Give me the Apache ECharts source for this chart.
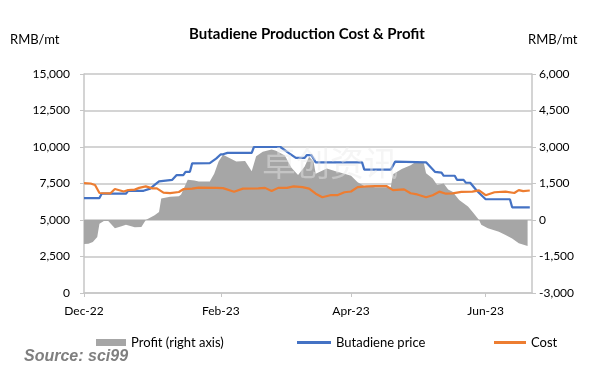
<!DOCTYPE html>
<html>
<head>
<meta charset="utf-8">
<script src="https://cdn.jsdelivr.net/npm/echarts@6/dist/echarts.min.js"></script>
<style>
  html, body { margin: 0; padding: 0; background: #fff; }
  #main { width: 614px; height: 378px; }
</style>
</head>
<body>
<div id="main"></div>
<script>
// tick labels
var leftTicks = [0, 2500, 5000, 7500, 10000, 12500, 15000];
var rightTicks = [-3000, -1500, 0, 1500, 3000, 4500, 6000];
var monthTicks = ['2022-12-01', '2023-02-01', '2023-04-01', '2023-06-01'];
var monthNames = ['Jan','Feb','Mar','Apr','May','Jun','Jul','Aug','Sep','Oct','Nov','Dec'];

// Butadiene price, RMB/mt (left axis)
var priceData = [
  ['2022-12-01',6500],['2022-12-08',6500],['2022-12-09',6800],['2022-12-20',6800],
  ['2022-12-21',7000],['2022-12-28',7000],['2022-12-31',7150],['2023-01-02',7400],
  ['2023-01-04',7650],['2023-01-10',7750],['2023-01-12',8080],['2023-01-15',8080],
  ['2023-01-16',8300],['2023-01-18',8300],['2023-01-19',8880],['2023-01-27',8900],
  ['2023-01-30',9220],['2023-02-01',9500],['2023-02-02',9500],['2023-02-04',9600],
  ['2023-02-15',9600],['2023-02-16',10000],['2023-02-28',10000],['2023-03-04',9570],
  ['2023-03-07',9250],['2023-03-11',9250],['2023-03-12',9450],['2023-03-14',9450],
  ['2023-03-16',8950],['2023-04-06',8950],['2023-04-07',8450],['2023-04-19',8450],
  ['2023-04-21',9000],['2023-05-05',8950],['2023-05-09',8300],['2023-05-12',8250],
  ['2023-05-13',8030],['2023-05-18',8030],['2023-05-19',7750],['2023-05-22',7750],
  ['2023-05-23',7560],['2023-05-25',7550],['2023-05-28',7000],['2023-06-01',6420],
  ['2023-06-12',6420],['2023-06-13',5870],['2023-06-21',5870]
];

// Cost, RMB/mt (left axis)
var costData = [
  ['2022-12-01',7530],['2022-12-04',7500],['2022-12-06',7400],['2022-12-08',6850],
  ['2022-12-13',6830],['2022-12-15',7120],['2022-12-19',6950],['2022-12-21',7050],
  ['2022-12-24',7080],['2022-12-26',7200],['2022-12-29',7300],['2023-01-01',7170],
  ['2023-01-03',7170],['2023-01-06',6880],['2023-01-09',6840],['2023-01-13',6920],
  ['2023-01-15',7110],['2023-01-19',7150],['2023-01-22',7220],['2023-01-30',7200],
  ['2023-02-02',7180],['2023-02-07',6940],['2023-02-11',7150],['2023-02-18',7170],
  ['2023-02-21',7200],['2023-02-24',6980],['2023-02-27',7200],['2023-03-03',7200],
  ['2023-03-06',7300],['2023-03-10',7250],['2023-03-13',7150],['2023-03-16',6800],
  ['2023-03-19',6560],['2023-03-23',6710],['2023-03-26',6710],['2023-03-29',6900],
  ['2023-04-01',6950],['2023-04-04',7250],['2023-04-08',7300],['2023-04-12',7320],
  ['2023-04-17',7330],['2023-04-20',7050],['2023-04-25',7100],['2023-04-28',6830],
  ['2023-05-01',6750],['2023-05-05',6560],['2023-05-08',6700],['2023-05-11',6940],
  ['2023-05-14',6800],['2023-05-17',6820],['2023-05-21',6930],['2023-05-26',6940],
  ['2023-05-29',7030],['2023-06-01',6700],['2023-06-05',6900],['2023-06-10',6940],
  ['2023-06-14',6850],['2023-06-16',7050],['2023-06-18',6980],['2023-06-21',7020]
];

// Profit, RMB/mt (right axis)
var profitData = [
  ['2022-12-01',-990],['2022-12-03',-980],['2022-12-05',-900],['2022-12-07',-700],
  ['2022-12-08',-150],['2022-12-10',-40],['2022-12-12',-40],['2022-12-15',-340],
  ['2022-12-18',-260],['2022-12-20',-200],['2022-12-22',-250],['2022-12-24',-300],
  ['2022-12-27',-290],['2022-12-29',0],['2023-01-02',200],['2023-01-04',330],
  ['2023-01-05',880],['2023-01-09',960],['2023-01-13',980],['2023-01-14',1050],
  ['2023-01-17',1650],['2023-01-20',1620],['2023-01-22',1580],['2023-01-27',1580],
  ['2023-01-29',1900],['2023-01-31',2400],['2023-02-02',2680],['2023-02-06',2500],
  ['2023-02-08',2400],['2023-02-12',2420],['2023-02-15',2000],['2023-02-17',2620],
  ['2023-02-20',2800],['2023-02-24',2900],['2023-02-26',2850],['2023-03-02',2650],
  ['2023-03-05',2150],['2023-03-08',1850],['2023-03-11',2200],['2023-03-13',2600],
  ['2023-03-15',2400],['2023-03-16',1900],['2023-03-21',2120],['2023-03-25',2000],
  ['2023-03-27',1950],['2023-03-29',1900],['2023-04-01',1820],['2023-04-04',1550],
  ['2023-04-07',1400],['2023-04-12',1350],['2023-04-19',1350],['2023-04-20',1880],
  ['2023-04-24',2100],['2023-04-28',2250],['2023-05-01',2420],['2023-05-04',2330],
  ['2023-05-05',1920],['2023-05-08',1710],['2023-05-10',1440],['2023-05-13',1500],
  ['2023-05-15',1250],['2023-05-17',1160],['2023-05-20',820],['2023-05-24',550],
  ['2023-05-26',340],['2023-05-29',0],['2023-05-30',-200],['2023-06-02',-340],
  ['2023-06-07',-480],['2023-06-10',-620],['2023-06-13',-760],['2023-06-16',-960],
  ['2023-06-20',-1070]
];

var chart = echarts.init(document.getElementById('main'), null, {renderer: 'canvas'});

var font = 'Lato';
var gridGrey = '#c6c6c6';

function toTime(s) {
  var p = s.split('-');
  return new Date(+p[0], +p[1] - 1, +p[2]).getTime();
}
function withTime(rows) {
  return rows.map(function (r) { return [toTime(r[0]), r[1]]; });
}
var monthTickTimes = monthTicks.map(toTime);

function thousands(v) {
  return echarts.format.addCommas(v);
}

chart.setOption({
  animation: false,
  backgroundColor: '#fff',
  textStyle: {fontFamily: font},
  grid: {left: 84, right: 82, top: 74, bottom: 85},
  title: {
    text: 'Butadiene Production Cost & Profit',
    left: 'center', top: 22,
    textStyle: {fontFamily: font, fontSize: 15, fontWeight: 'bold', color: '#000'}
  },
  legend: [
    {
      left: 91, top: 331, icon: 'rect', itemWidth: 30, itemHeight: 7, itemGap: 0,
      data: ['Profit (right axis)'],
      textStyle: {fontFamily: font, fontSize: 13, color: '#000'}
    },
    {
      left: 292, top: 331, icon: 'rect', itemWidth: 34, itemHeight: 3, itemGap: 0,
      data: ['Butadiene price'],
      textStyle: {fontFamily: font, fontSize: 13, color: '#000'}
    },
    {
      left: 489, top: 331, icon: 'rect', itemWidth: 32, itemHeight: 3, itemGap: 0,
      data: ['Cost'],
      textStyle: {fontFamily: font, fontSize: 13, color: '#000'}
    }
  ],
  xAxis: {
    type: 'value',
    min: toTime('2022-12-01'),
    max: toTime('2023-06-22'),
    axisLine: {lineStyle: {color: gridGrey, width: 1.5}},
    axisTick: {show: true, customValues: monthTickTimes, length: 4, lineStyle: {color: gridGrey}},
    splitLine: {show: false},
    axisLabel: {
      customValues: monthTickTimes,
      margin: 12,
      fontFamily: font, fontSize: 12, color: '#000',
      formatter: function (v) {
        var d = new Date(v);
        return monthNames[d.getMonth()] + '-' + String(d.getFullYear()).slice(2);
      }
    }
  },
  yAxis: [
    {
      type: 'value', min: 0, max: 15000, interval: 2500,
      axisLine: {show: true, lineStyle: {color: gridGrey, width: 1.5}},
      axisTick: {show: true, length: 4, lineStyle: {color: gridGrey}},
      splitLine: {show: true, lineStyle: {color: gridGrey, width: 1.5}},
      axisLabel: {margin: 14, fontFamily: font, fontSize: 12, color: '#000', formatter: thousands}
    },
    {
      type: 'value', min: -3000, max: 6000, interval: 1500,
      axisLine: {show: true, lineStyle: {color: gridGrey, width: 1.5}},
      axisTick: {show: true, length: 4, lineStyle: {color: gridGrey}},
      splitLine: {show: false},
      axisLabel: {margin: 7, fontFamily: font, fontSize: 12, color: '#000', formatter: thousands}
    }
  ],
  graphic: [
    {type: 'text', left: 10, top: 33, style: {text: 'RMB/mt', font: '13px Lato', fill: '#000'}},
    {type: 'text', left: 528, top: 33, style: {text: 'RMB/mt', font: '13px Lato', fill: '#000'}},
    {
      type: 'text', left: 24, top: 349,
      style: {text: 'Source: sci99', font: 'italic bold 16px "Liberation Sans"', fill: '#7f7f7f'}
    },
    {
      type: 'text', left: 262, top: 146, z: 100, silent: true,
      style: {text: '卓创资讯', font: '34px "Noto Sans CJK SC"', fill: 'rgba(232,232,232,0.45)'}
    }
  ],
  series: [
    {
      name: 'Profit (right axis)',
      type: 'line', yAxisIndex: 1,
      showSymbol: false, symbol: 'none',
      color: '#a6a6a6',
      lineStyle: {width: 0},
      areaStyle: {color: '#a6a6a6', opacity: 1},
      data: withTime(profitData),
      z: 1
    },
    {
      name: 'Butadiene price',
      type: 'line', yAxisIndex: 0,
      showSymbol: false, symbol: 'none',
      color: '#4472c4',
      lineStyle: {width: 2.2, color: '#4472c4'},
      data: withTime(priceData),
      z: 3
    },
    {
      name: 'Cost',
      type: 'line', yAxisIndex: 0,
      showSymbol: false, symbol: 'none',
      color: '#ed7d31',
      lineStyle: {width: 2.2, color: '#ed7d31'},
      data: withTime(costData),
      z: 4
    }
  ]
});
</script>
</body>
</html>
